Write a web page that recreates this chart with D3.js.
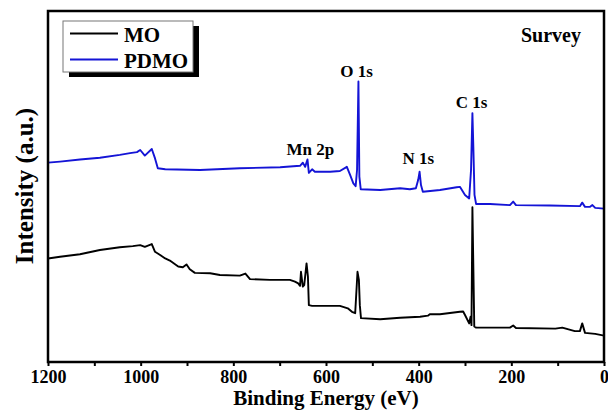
<!DOCTYPE html>
<html>
<head>
<meta charset="utf-8">
<script src="https://cdn.jsdelivr.net/npm/d3@7/dist/d3.min.js"></script>
<style>
  body { margin: 0; background: #fff; }
  text { font-family: "Liberation Serif", "Times New Roman", serif; font-weight: bold; }
</style>
</head>
<body>
<svg id="chart"></svg>
<script>
// binding energy (eV), intensity (a.u.)
let moData = [
  [1200, 29.5], [1174, 30.0], [1131, 30.7], [1088, 31.9], [1045, 32.7], [1017, 33.0],
  [1001, 33.3], [991, 32.8], [976, 33.6], [969, 31.4], [958, 30.5], [947, 29.5],
  [937, 28.9], [919, 27.2], [909, 27.0], [901, 27.8], [894, 26.4], [883, 25.4],
  [850, 25.3], [829, 24.8], [786, 24.6], [774, 25.2], [764, 23.6], [721, 23.4],
  [678, 23.4], [667, 22.9], [660, 22.4], [656, 21.7], [654, 25.7], [650, 21.5],
  [647, 21.9], [642, 28.1], [639, 24.3], [637, 16.2], [630, 16.0], [570, 16.0],
  [553, 15.3], [544, 14.3], [537, 13.9], [532, 25.7], [529, 23.4], [527, 16.2],
  [524.5, 12.5], [483, 12.2], [440, 12.6], [397, 12.9], [380, 13.2], [376, 13.6],
  [354, 13.6], [311, 14.3], [304, 14.4], [300, 13.4], [291, 11.0], [288, 12.9],
  [286, 10.5], [284, 44.1], [280, 10.1], [276, 9.8], [203, 9.8], [196, 10.4],
  [190, 9.7], [105, 9.5], [90, 9.8], [63, 8.8], [52, 8.8], [47, 11.0],
  [41, 8.3], [19, 8.0], [0, 7.5]
];

let pdmoData = [
  [1200, 56.8], [1174, 57.1], [1131, 57.7], [1088, 58.2], [1045, 59.0], [1023, 59.5],
  [1008, 59.8], [1001, 60.4], [991, 58.8], [976, 60.7], [969, 58.0], [963, 55.2],
  [947, 54.9], [872, 54.7], [786, 55.2], [699, 55.5], [656, 55.9], [650, 56.8],
  [645, 55.6], [640, 57.7], [637, 53.9], [630, 54.9], [624, 54.2], [591, 54.2],
  [570, 54.4], [555, 55.6], [548, 53.3], [541, 50.9], [536, 50.1], [533, 54.7],
  [530, 79.9], [528, 52.8], [525, 49.2], [483, 49.0], [440, 49.5], [419, 49.2],
  [406, 49.5], [401, 51.9], [398, 54.2], [395, 50.4], [391, 48.5], [354, 49.0],
  [318, 49.8], [311, 49.9], [300, 47.6], [291, 46.6], [287, 54.7], [284, 70.9],
  [282, 61.3], [279.5, 47.6], [276, 45.0], [246, 45.0], [203, 44.7], [196, 45.7],
  [190, 44.7], [117, 44.6], [52, 44.4], [47, 45.4], [41, 44.2], [30, 44.2],
  [25, 44.7], [19, 43.9], [0, 43.7]
];

let seriesNames = ["MO", "PDMO"];
let seriesColors = ["#000000", "#1414d6"];

let majorTicks = [1200, 1000, 800, 600, 400, 200, 0];
let minorTicks = [1100, 900, 700, 500, 300, 100];

// [label, energy, intensity]
let peakLabels = [
  ["Mn 2p", 634, 59.0],
  ["O 1s", 534, 81.2],
  ["N 1s", 401, 56.4],
  ["C 1s", 286, 72.5]
];

let svg = d3.select("#chart")
  .attr("width", 608)
  .attr("height", 411);

let x = d3.scaleLinear().domain([1200, 0]).range([48, 604]);
let y = d3.scaleLinear().domain([0, 100]).range([362, 11]);

let line = d3.line()
  .x(d => x(d[0]))
  .y(d => y(d[1]));

// axis ticks
let xAxis = svg.append("g")
  .attr("transform", "translate(0,362)")
  .call(d3.axisBottom(x).tickValues(majorTicks).tickSize(4).tickPadding(4).tickFormat(d3.format("d")));

svg.append("g")
  .attr("transform", "translate(0,362)")
  .call(d3.axisBottom(x).tickValues(minorTicks).tickSize(4).tickFormat(""))
  .select(".domain").remove();

xAxis.select(".domain").remove();
svg.selectAll(".tick line").attr("stroke", "#000").attr("stroke-width", 2);
xAxis.selectAll(".tick text")
  .attr("font-size", 18)
  .attr("font-family", "Liberation Serif")
  .attr("fill", "#000");

// spectra
svg.append("path")
  .datum(moData)
  .attr("d", line)
  .attr("fill", "none")
  .attr("stroke", seriesColors[0])
  .attr("stroke-width", 1.9)
  .attr("stroke-linejoin", "round");

svg.append("path")
  .datum(pdmoData)
  .attr("d", line)
  .attr("fill", "none")
  .attr("stroke", seriesColors[1])
  .attr("stroke-width", 1.9)
  .attr("stroke-linejoin", "round");

// frame
svg.append("rect")
  .attr("x", 48)
  .attr("y", 11)
  .attr("width", 556)
  .attr("height", 351)
  .attr("fill", "none")
  .attr("stroke", "#000")
  .attr("stroke-width", 2.5);

// peak labels
svg.selectAll(".peak")
  .data(peakLabels)
  .enter()
  .append("text")
  .attr("class", "peak")
  .attr("x", d => x(d[1]))
  .attr("y", d => y(d[2]))
  .attr("text-anchor", "middle")
  .attr("font-size", 17)
  .text(d => d[0]);

svg.append("text")
  .attr("x", 581)
  .attr("y", 42)
  .attr("text-anchor", "end")
  .attr("font-size", 20)
  .text("Survey");

// legend
let legend = svg.append("g");
legend.append("rect")
  .attr("x", 69).attr("y", 26)
  .attr("width", 130).attr("height", 51)
  .attr("fill", "#000");
legend.append("rect")
  .attr("x", 63).attr("y", 21)
  .attr("width", 130).attr("height", 51)
  .attr("fill", "#fff")
  .attr("stroke", "#777")
  .attr("stroke-width", 1);

seriesNames.forEach((name, i) => {
  let ly = 33.5 + i * 26;
  legend.append("line")
    .attr("x1", 70).attr("x2", 118)
    .attr("y1", ly).attr("y2", ly)
    .attr("stroke", seriesColors[i])
    .attr("stroke-width", 2);
  legend.append("text")
    .attr("x", 124)
    .attr("y", ly + 8)
    .attr("font-size", 21)
    .text(name);
});

// axis titles
svg.append("text")
  .attr("x", 326)
  .attr("y", 405)
  .attr("text-anchor", "middle")
  .attr("font-size", 21)
  .text("Binding Energy (eV)");

svg.append("text")
  .attr("transform", "translate(33,186) rotate(-90)")
  .attr("text-anchor", "middle")
  .attr("font-size", 25)
  .text("Intensity (a.u.)");
</script>
</body>
</html>
